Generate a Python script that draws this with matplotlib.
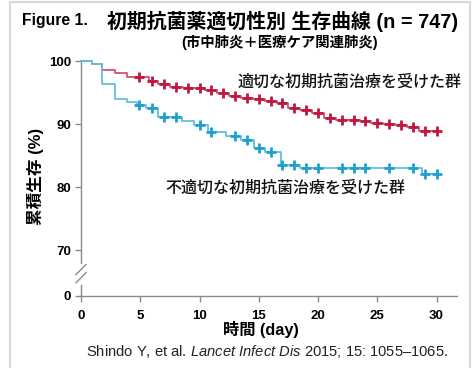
import numpy as np
import matplotlib
matplotlib.use('Agg')
import matplotlib.pyplot as plt
from matplotlib.patches import Rectangle

plt.rcParams['font.family'] = ['Liberation Sans', 'Noto Sans CJK JP']
plt.rcParams['mathtext.fontset'] = 'custom'
plt.rcParams['mathtext.rm'] = 'Liberation Sans'
plt.rcParams['mathtext.it'] = 'Liberation Sans:italic'

# Kaplan-Meier step data (day, survival %)
good_t = [0, 0.9, 1.8, 2.85, 3.9, 5.7, 6.5, 7.5, 8.6, 10.5, 11.5, 12.5, 13.5, 14.5,
          15.5, 16.5, 17.5, 18.5, 19.5, 20.5, 21.5, 22.5, 23.5, 24.5, 25.5, 26.5,
          27.5, 28.5, 30.0]
good_s = [100, 99.5, 98.6, 98.1, 97.5, 96.9, 96.3, 95.9, 95.7, 95.4, 94.9, 94.4, 94.2,
          93.9, 93.7, 93.3, 92.5, 92.3, 91.7, 91.0, 90.7, 90.6, 90.4, 90.2, 90.0,
          89.8, 89.6, 88.9, 88.9]
good_cens = [4.9, 6, 7, 8, 9, 10, 11, 12, 13, 14, 15, 16, 17, 18, 19, 20, 21, 22, 23,
             24, 25, 26, 27, 28, 29, 30]

bad_t = [0, 0.9, 1.8, 2.85, 3.9, 4.7, 5.5, 6.5, 8.5, 9.5, 10.7, 12.2, 13.5, 14.6,
         15.5, 16.9, 18.5, 28.75, 30.0]
bad_s = [100, 99.5, 96.3, 94.0, 93.5, 93.0, 92.5, 91.1, 90.5, 89.8, 88.8, 88.1, 87.5,
         86.2, 85.6, 83.5, 83.0, 82.1, 82.1]
bad_cens = [4.9, 6, 7, 8, 10, 11, 13, 14, 15, 16, 17, 18, 19, 20, 22, 23, 24, 26, 28,
            29, 30]

x_ticks = [0, 5, 10, 15, 20, 25, 30]
y_ticks = [70, 80, 90, 100]

W, H = 475, 368
Y_BOTTOM = 62.7   # display position used for the "0" of the broken axis


def step_value(times, surv, t):
    i = np.searchsorted(times, t, side='right') - 1
    return np.asarray(surv)[i]


def fig_text(x, y, s, size_px, **kw):
    """Place text at pixel position (from top-left) and scale it to a pixel width."""
    t = fig.text(x / W, 1 - y / H, s, **kw)
    fig.canvas.draw()
    bb = t.get_window_extent()
    cur = bb.height if kw.get('rotation') == 90 else bb.width
    t.set_fontsize(t.get_fontsize() * size_px / cur)
    return t


fig = plt.figure(figsize=(W / 100, H / 100), dpi=100)
fig.patches.append(Rectangle((10 / W, -0.05), 460 / W, 1.05 - 2 / H,
                             transform=fig.transFigure, fill=False,
                             edgecolor='#d8d8d8', linewidth=1.5))

ax = fig.add_axes([81 / W, 1 - 296 / H, 375.7 / W, 235 / H])
ax.set_xlim(0, 31.7)
ax.set_ylim(Y_BOTTOM, 100)

red_line, red_mark = '#d4506e', '#c0163f'
blue_line, blue_mark = '#5ec3e0', '#1f9fd0'

ax.step(good_t, good_s, where='post', color=red_line, lw=1.3, clip_on=False, zorder=3)
ax.step(bad_t, bad_s, where='post', color=blue_line, lw=1.3, clip_on=False, zorder=3)
ax.plot(good_cens, [step_value(good_t, good_s, t) for t in good_cens], ls='none',
        marker='+', ms=7.5, mew=2, color=red_mark, clip_on=False, zorder=4)
ax.plot(bad_cens, [step_value(bad_t, bad_s, t) for t in bad_cens], ls='none',
        marker='+', ms=7.5, mew=2, color=blue_mark, clip_on=False, zorder=4)

for s in ['top', 'right']:
    ax.spines[s].set_visible(False)
for s in ['left', 'bottom']:
    ax.spines[s].set_color('#8a8a8a')
    ax.spines[s].set_linewidth(1.0)
ax.spines['left'].set_bounds(67.9, 100)
# lower stub of the broken y axis and the break marks
ax.plot([0, 0], [Y_BOTTOM, 64.4], color='#8a8a8a', lw=1.0, clip_on=False)
ax.plot([-0.42, 0.42], [66.1, 67.7], color='#8a8a8a', lw=1.0, clip_on=False)
ax.plot([-0.42, 0.42], [64.8, 66.4], color='#8a8a8a', lw=1.0, clip_on=False)

ax.set_xticks(x_ticks)
ax.set_xticklabels([str(v) for v in x_ticks])
ax.set_yticks([Y_BOTTOM] + y_ticks)
ax.set_yticklabels(['0'] + [str(v) for v in y_ticks])
ax.tick_params(axis='both', direction='out', length=4, width=1.0, color='#8a8a8a',
               labelsize=9.5)
ax.tick_params(axis='x', pad=6)
ax.tick_params(axis='y', pad=3)
for lab in ax.get_xticklabels() + ax.get_yticklabels():
    lab.set_fontweight('bold')

fig_text(237, 82, '適切な初期抗菌治療を受けた群', 224, ha='left', va='center',
         color='#111111', fontweight='medium')
fig_text(165, 188, '不適切な初期抗菌治療を受けた群', 240, ha='left', va='center',
         color='#111111', fontweight='medium')

fig_text(22, 21, 'Figure 1.', 66, fontweight='bold', ha='left', va='center')
fig_text(107, 21, '初期抗菌薬適切性別 生存曲線 (n = 747)', 351, fontweight='bold',
         ha='left', va='center')
fig_text(280, 43, '(市中肺炎＋医療ケア関連肺炎)', 197, fontweight='bold',
         ha='center', va='center')
fig_text(35, 176, '累積生存 (%)', 97, fontweight='bold', rotation=90,
         ha='center', va='center')
fig_text(261, 330, '時間 (day)', 76, fontweight='bold', ha='center', va='center')
fig_text(267.5, 352,
         r'Shindo Y, et al. $\mathit{Lancet\ Infect\ Dis}$ 2015; 15: 1055–1065.',
         361, ha='center', va='center', color='#222222')

fig.savefig('out.png', dpi=100)
